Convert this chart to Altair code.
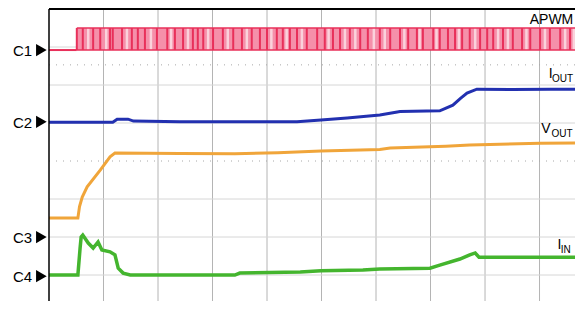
import altair as alt
import pandas as pd

# Horizontal: time in screen divisions (0..10). Vertical: level in divisions (0 = screen centre, -4..4)
iout_t = [0, 1.17, 1.25, 1.45, 1.55, 2.40, 4.55, 4.99, 5.47, 6.07, 6.39, 6.44, 7.17, 7.41, 7.55, 7.67, 7.85, 8.5, 9.2, 10]
iout_v = [1.02, 1.02, 1.10, 1.10, 1.05, 1.03, 1.03, 1.08, 1.13, 1.21, 1.29, 1.30, 1.32, 1.47, 1.65, 1.79, 1.89, 1.88, 1.89, 1.89]

vout_t = [0, 0.53, 0.56, 0.61, 0.70, 0.94, 1.12, 1.21, 2.40, 3.41, 4.20, 4.99, 6.07, 6.26, 7.28, 7.72, 9.01, 10]
vout_v = [-1.50, -1.50, -1.20, -0.95, -0.68, -0.24, 0.11, 0.21, 0.20, 0.19, 0.22, 0.26, 0.30, 0.34, 0.39, 0.42, 0.47, 0.48]

iin_t = [0, 0.53, 0.57, 0.59, 0.62, 0.72, 0.81, 0.90, 0.97, 1.12, 1.21, 1.27, 1.36, 1.49, 3.41, 3.50, 4.61,
         4.99, 5.76, 6.07, 6.99, 7.17, 7.54, 7.72, 7.82, 7.89, 7.94, 10]
iin_v = [-3.0, -3.0, -2.3, -2.0, -1.95, -2.16, -2.29, -2.13, -2.34, -2.39, -2.47, -2.82, -2.95, -3.0, -3.0, -2.95, -2.92,
         -2.89, -2.87, -2.84, -2.82, -2.74, -2.58, -2.47, -2.42, -2.53, -2.53, -2.53]

# APWM switching edges (divisions)
pwm_edges = [0.51, 0.62, 0.81, 0.94, 1.12, 1.17, 1.34, 1.52, 1.63, 1.76, 1.98, 2.17, 2.31, 2.46,
             2.64, 2.73, 2.83, 3.01, 3.19, 3.38, 3.54, 3.72, 3.87, 4.00, 4.18, 4.29, 4.42, 4.55, 4.73, 4.92,
             5.06, 5.21, 5.34, 5.52, 5.71, 5.85, 6.07, 6.26, 6.44, 6.59, 6.75, 6.86, 7.05, 7.17, 7.32,
             7.45, 7.58, 7.72, 7.91, 8.04, 8.15, 8.33, 8.51, 8.68, 8.83, 9.01, 9.19, 9.38, 9.56, 9.71]
# lighter streaks inside the APWM band (divisions)
pwm_light = [0.72, 1.05, 1.43, 1.87, 2.24, 2.55, 2.92, 3.28, 3.63, 4.08, 4.36, 4.64, 5.13, 5.43, 5.62, 5.96,
             6.16, 6.52, 6.80, 7.11, 7.52, 7.82, 8.24, 8.42, 8.76, 9.10, 9.47, 9.63]
pwm_start = 0.51
pwm_low = 2.92
pwm_high = 3.50

channels = ["C1", "C2", "C3", "C4"]
channel_levels = [2.92, 1.03, -2.0, -3.03]

grid_x = [1, 2, 3, 4, 5, 6, 7, 8, 9]
grid_y = [3, 2, 1, -1, -2, -3]
dotted_y = [2.53, 0.0]

labels_main = ["APWM", "I", "V", "I"]
labels_main_t = [8.82, 9.17, 9.03, 9.33]
labels_main_v = [3.61, 2.18, 0.74, -2.32]
labels_sub = ["OUT", "OUT", "IN"]
labels_sub_t = [9.23, 9.22, 9.39]
labels_sub_v = [2.08, 0.63, -2.41]

# visible part of the screen (the capture is cropped on the right and bottom)
X = alt.Scale(domain=[0, 9.651], nice=False, zero=False)
Y = alt.Scale(domain=[-3.684, 4], nice=False, zero=False)
FONT = "Liberation Sans"


def xq(f="t"):
    return alt.X(f"{f}:Q", scale=X, axis=None)


def yq(f="v"):
    return alt.Y(f"{f}:Q", scale=Y, axis=None)


vgrid = alt.Chart(pd.DataFrame({"t": grid_x})).mark_rule(color="#b4b4b4", strokeWidth=1).encode(x=xq())
hgrid = alt.Chart(pd.DataFrame({"v": grid_y})).mark_rule(color="#d6d6d6", strokeWidth=1).encode(y=yq())
dgrid = alt.Chart(pd.DataFrame({"v": dotted_y})).mark_rule(color="#a8a8a8", strokeWidth=1, strokeDash=[1, 6]).encode(y=yq())

band = alt.Chart(pd.DataFrame({"t": [pwm_start], "t2": [10], "v": [pwm_low], "v2": [pwm_high]})).mark_rect(
    color="#f590aa", clip=True).encode(x=xq(), x2="t2:Q", y=yq(), y2="v2:Q")
light = alt.Chart(pd.DataFrame({"t": pwm_light, "v": [pwm_low] * len(pwm_light), "v2": [pwm_high] * len(pwm_light)})).mark_rule(
    color="#fbd2dc", strokeWidth=2.5).encode(x=xq(), y=yq(), y2="v2:Q")
edges = alt.Chart(pd.DataFrame({"t": pwm_edges, "v": [pwm_low] * len(pwm_edges), "v2": [pwm_high] * len(pwm_edges)})).mark_rule(
    color="#e8305a", strokeWidth=2).encode(x=xq(), y=yq(), y2="v2:Q")
band_edges = alt.Chart(pd.DataFrame({"t": [pwm_start, pwm_start], "t2": [10, 10], "v": [pwm_low, pwm_high]})).mark_rule(
    color="#e8305a", strokeWidth=1.5, clip=True).encode(x=xq(), x2="t2:Q", y=yq())
pwm_lowseg = alt.Chart(pd.DataFrame({"t": [0], "t2": [pwm_start], "v": [pwm_low]})).mark_rule(
    color="#e8305a", strokeWidth=2).encode(x=xq(), x2="t2:Q", y=yq())


def trace(ts, vs, color, w):
    return alt.Chart(pd.DataFrame({"t": ts, "v": vs})).mark_line(
        color=color, strokeWidth=w, interpolate="linear", clip=True).encode(x=xq(), y=yq(), order="t:Q")


blue = trace(iout_t, iout_v, "#2230b0", 3)
orange = trace(vout_t, vout_v, "#f0a53a", 3)
green = trace(iin_t, iin_v, "#44b52e", 3.5)

frame_top = alt.Chart(pd.DataFrame({"v": [4]})).mark_rule(color="#000000", strokeWidth=2).encode(y=yq())
frame_left = alt.Chart(pd.DataFrame({"t": [0]})).mark_rule(color="#000000", strokeWidth=1.5).encode(x=xq())

cdf = pd.DataFrame({"label": channels, "v": channel_levels, "tt": [-0.31] * 4, "tm": [-0.14] * 4})
ctext = alt.Chart(cdf).mark_text(align="right", baseline="middle", font=FONT, fontSize=15, color="#000000", dy=1).encode(
    x=xq("tt"), y=yq(), text="label:N")
cmark = alt.Chart(cdf).mark_point(shape="triangle-right", filled=True, color="#000000", opacity=1, size=150).encode(
    x=xq("tm"), y=yq())

mtext = alt.Chart(pd.DataFrame({"label": labels_main, "t": labels_main_t, "v": labels_main_v})).mark_text(
    align="left", baseline="alphabetic", font=FONT, fontSize=14, color="#000000").encode(x=xq(), y=yq(), text="label:N")
stext = alt.Chart(pd.DataFrame({"label": labels_sub, "t": labels_sub_t, "v": labels_sub_v})).mark_text(
    align="left", baseline="alphabetic", font=FONT, fontSize=10, color="#000000").encode(x=xq(), y=yq(), text="label:N")

chart = alt.layer(
    vgrid, hgrid, dgrid, band, light, edges, band_edges, pwm_lowseg, blue, orange, green, frame_top, frame_left,
    ctext, cmark, mtext, stext
).properties(
    width=526, height=292,
    autosize=alt.AutoSizeParams(type="none"),
    padding={"left": 41, "top": 1, "right": 0, "bottom": 0},
    background="#ffffff",
).configure_view(stroke=None)

chart.save("out.html", embed_options={"renderer": "svg", "actions": False})
